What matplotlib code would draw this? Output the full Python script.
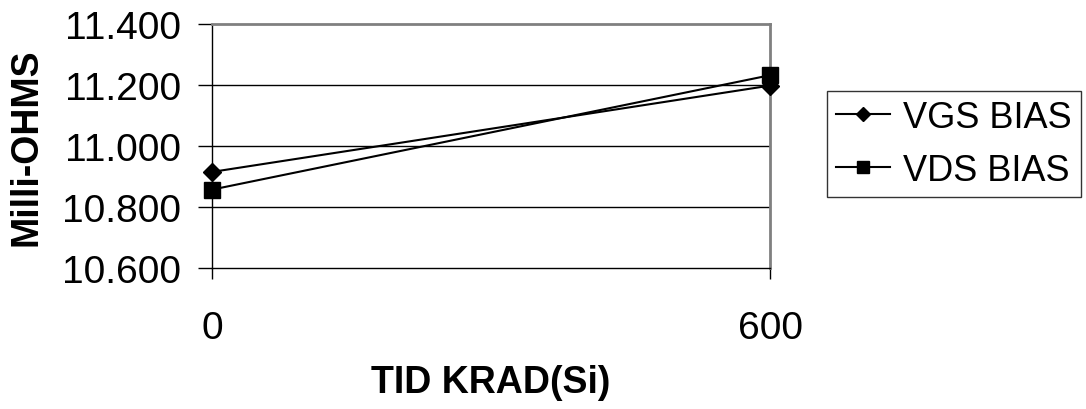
import matplotlib
matplotlib.use("Agg")
import matplotlib.pyplot as plt
from matplotlib.ticker import FormatStrFormatter

categories = ["0", "600"]
vgs_bias = [10.915, 11.198]
vds_bias = [10.857, 11.232]
y_ticks = [10.6, 10.8, 11.0, 11.2, 11.4]

plt.rcParams['font.family'] = ['Liberation Sans', 'DejaVu Sans']

W, H = 1086, 410
fig = plt.figure(figsize=(W/100, H/100), dpi=100)
ax = fig.add_axes([212/W, 1 - 269/H, (770-212)/W, (269-25)/H])

x = list(range(len(categories)))
l1, = ax.plot(x, vgs_bias, color='black', lw=1.5, marker='D', markersize=9.5,
              label='VGS BIAS', clip_on=False, zorder=3)
l2, = ax.plot(x, vds_bias, color='black', lw=1.5, marker='s', markersize=11.5,
              label='VDS BIAS', clip_on=False, zorder=3)

ax.set_xlim(0, 1)
ax.set_ylim(10.6, 11.4)
ax.set_yticks(y_ticks)
ax.yaxis.set_major_formatter(FormatStrFormatter('%.3f'))
ax.set_xticks(x)
ax.set_xticklabels(categories)
ax.tick_params(axis='both', labelsize=28, direction='out', color='black', width=1)
ax.tick_params(axis='y', length=10, pad=12)
ax.tick_params(axis='x', length=8, pad=22)

for yv in y_ticks[1:-1]:
    ax.axhline(yv, color='black', lw=1, zorder=0)

for side in ['top', 'right']:
    ax.spines[side].set_color('#808080')
    ax.spines[side].set_linewidth(2)
for side in ['left', 'bottom']:
    ax.spines[side].set_color('black')
    ax.spines[side].set_linewidth(1)

fig.text(27/W, 1 - 147/H, 'Milli-OHMS', fontsize=27, fontweight='bold',
         rotation=90, ha='center', va='center')
fig.text(491/W, 1 - 383/H, 'TID KRAD(Si)', fontsize=27, fontweight='bold',
         ha='center', va='center')

leg = fig.legend(handles=[l1, l2], loc='upper left',
                 bbox_to_anchor=(827/W, 1 - 92/H),
                 fontsize=26, frameon=True, fancybox=False,
                 edgecolor='black', handlelength=1.5, handletextpad=0.36,
                 borderpad=0.25, labelspacing=0.5, borderaxespad=0,
                 markerscale=0.8)
leg.get_frame().set_linewidth(1)

fig.savefig('out.png', dpi=100)
